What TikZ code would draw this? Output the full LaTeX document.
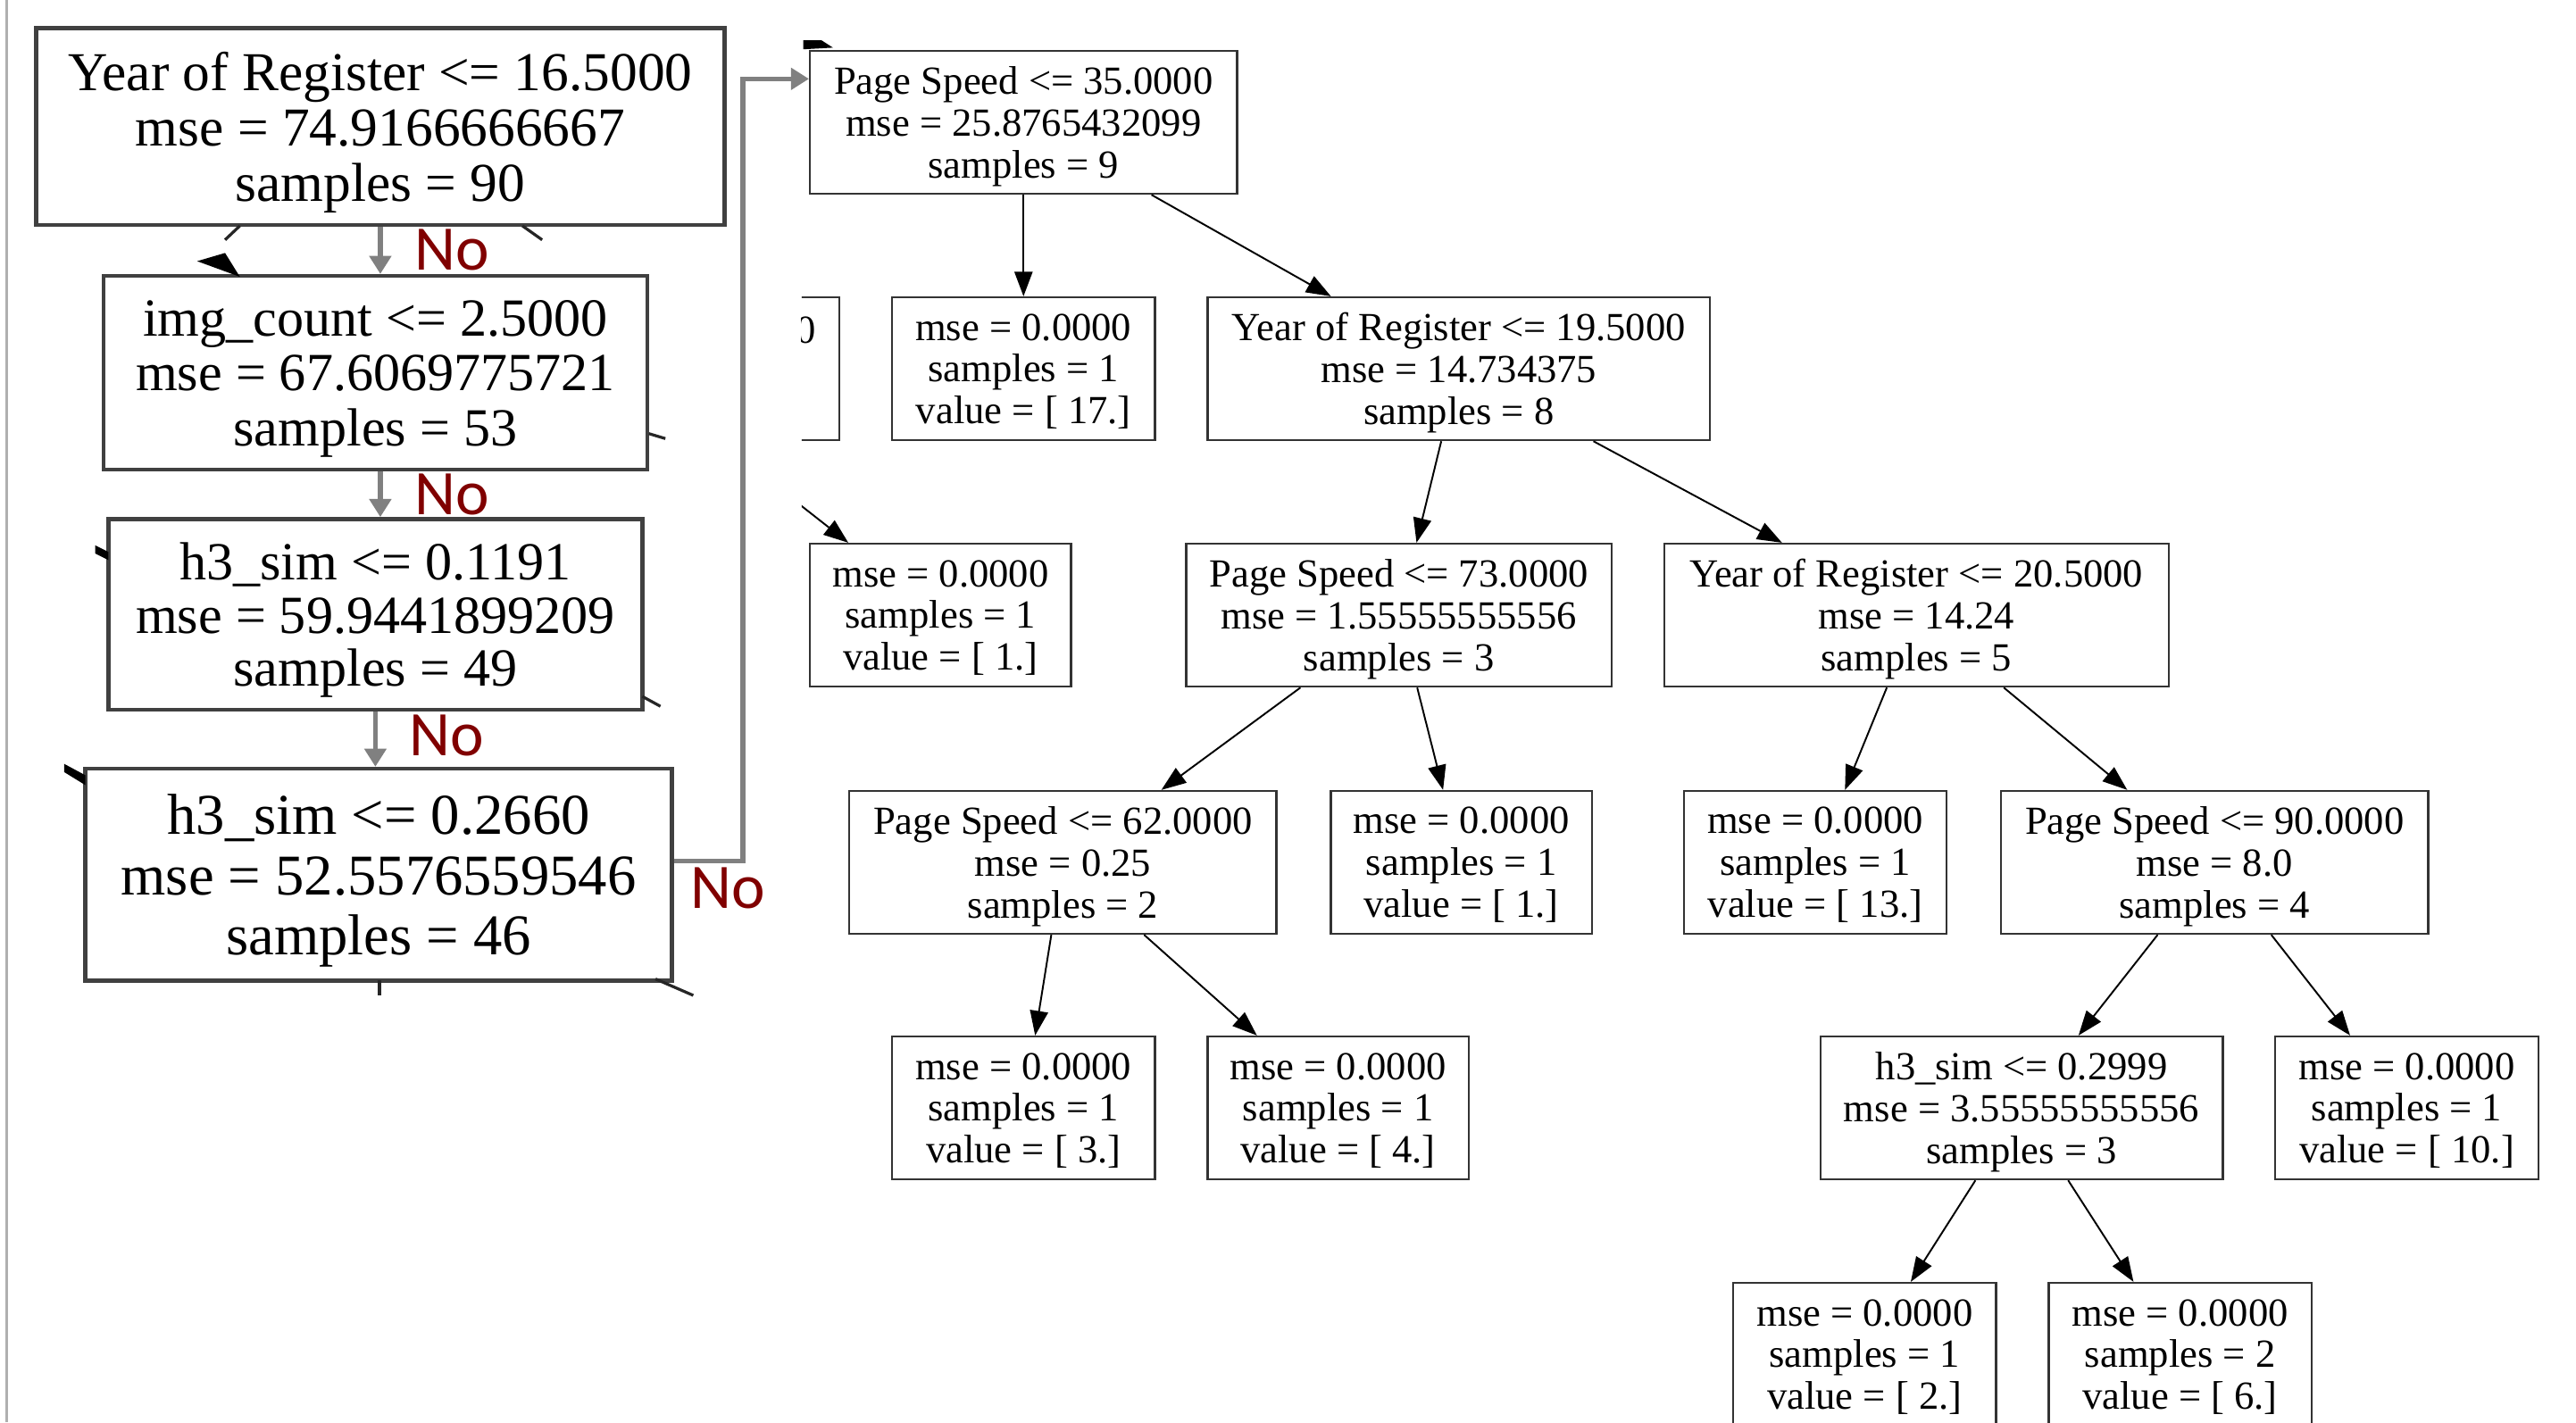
\documentclass[tikz,border=0pt]{standalone}
\usepackage{fontspec}
\setmainfont{Liberation Serif}
\newfontfamily\calibrifont{Carlito}
\usetikzlibrary{arrows.meta}
\definecolor{nored}{RGB}{128,0,0}
\definecolor{nogray}{RGB}{128,128,128}
\definecolor{framegray}{RGB}{176,176,176}

\begin{document}
\begin{tikzpicture}[x=0.02cm,y=-0.02cm,
  tree/.style={black,line width=0.6pt,-{Triangle[width=0.22cm,length=0.3cm]}},
  no/.style={nogray,line width=1.6pt,-{Triangle[width=0.26cm,length=0.22cm]}},
  nolabel/.style={nored,inner sep=0pt,font=\calibrifont\fontsize{22}{22}\selectfont}]
\useasboundingbox (0,0) rectangle (1568,866);
\clip (0,0) rectangle (1568,866);
\draw[framegray,line width=0.9pt] (4,0) -- (4,866);

% left column
\begin{scope}[every node/.style={draw=black!75,line width=1.4pt,align=center,inner sep=0pt,text depth=0pt}]
\node[minimum width=8.38cm,minimum height=2.4cm,font=\fontsize{19}{19.1}\selectfont] (0) at (231.5,77) {Year of Register <= 16.5000\\mse = 74.9166666667\\samples = 90};
\node[minimum width=6.62cm,minimum height=2.36cm,font=\fontsize{18.6}{19}\selectfont] (1) at (228.5,227) {img\_count <= 2.5000\\mse = 67.6069775721\\samples = 53};
\node[minimum width=6.5cm,minimum height=2.32cm,font=\fontsize{18.6}{18.4}\selectfont] (2) at (228.5,374) {h3\_sim <= 0.1191\\mse = 59.9441899209\\samples = 49};
\node[minimum width=7.14cm,minimum height=2.58cm,font=\fontsize{20}{20.8}\selectfont] (3) at (230.5,532.5) {h3\_sim <= 0.2660\\mse = 52.5576559546\\samples = 46};
\end{scope}

% cut ends of the old edges
\draw[black!85,line width=1pt] (146,137.5) -- (137,146);
\fill[black] (120,159) -- (137,154) -- (146,168.5) -- cycle;
\draw[black!85,line width=1pt] (318,137.5) -- (330,146);
\draw[black!85,line width=1pt] (395,264) -- (405,267);
\fill[black] (58,332) -- (66,336) -- (66,341) -- (58,337) -- cycle;
\draw[black!85,line width=1pt] (391,424) -- (402,430);
\fill[black] (39,465) -- (52,472) -- (52,478) -- (39,470) -- cycle;
\draw[black!85,line width=1pt] (231,597) -- (231,606);
\draw[black!85,line width=1pt] (399,596) -- (422,606);

% tree
\begin{scope}[every node/.style={draw=black!80,line width=0.7pt,align=center,inner sep=0pt,text depth=0pt,minimum height=1.74cm,font=\fontsize{13.8}{14.5}\selectfont}]
\node[minimum width=5.2cm] (4) at (623,74.5) {Page Speed <= 35.0000\\mse = 25.8765432099\\samples = 9};
\node[minimum width=3.2cm] (5) at (623,224.5) {mse = 0.0000\\samples = 1\\value = [ 17.]};
\node[minimum width=6.12cm] (6) at (888,224.5) {Year of Register <= 19.5000\\mse = 14.734375\\samples = 8};
\node[minimum width=3.18cm] (7) at (572.5,374.5) {mse = 0.0000\\samples = 1\\value = [ 1.]};
\node[minimum width=5.18cm] (8) at (851.5,374.5) {Page Speed <= 73.0000\\mse = 1.55555555556\\samples = 3};
\node[minimum width=6.14cm] (9) at (1166.5,374.5) {Year of Register <= 20.5000\\mse = 14.24\\samples = 5};
\node[minimum width=5.2cm] (10) at (647,525) {Page Speed <= 62.0000\\mse = 0.25\\samples = 2};
\node[minimum width=3.18cm] (11) at (889.5,525) {mse = 0.0000\\samples = 1\\value = [ 1.]};
\node[minimum width=3.2cm] (12) at (1105,525) {mse = 0.0000\\samples = 1\\value = [ 13.]};
\node[minimum width=5.2cm] (13) at (1348,525) {Page Speed <= 90.0000\\mse = 8.0\\samples = 4};
\node[minimum width=3.2cm] (14) at (623,674.5) {mse = 0.0000\\samples = 1\\value = [ 3.]};
\node[minimum width=3.18cm] (15) at (814.5,674.5) {mse = 0.0000\\samples = 1\\value = [ 4.]};
\node[minimum width=4.9cm] (16) at (1230.5,674.5) {h3\_sim <= 0.2999\\mse = 3.55555555556\\samples = 3};
\node[minimum width=3.2cm] (17) at (1465,674.5) {mse = 0.0000\\samples = 1\\value = [ 10.]};
\node[minimum width=3.2cm] (18) at (1135,824.5) {mse = 0.0000\\samples = 1\\value = [ 2.]};
\node[minimum width=3.2cm] (19) at (1327,824.5) {mse = 0.0000\\samples = 2\\value = [ 6.]};
\end{scope}

\draw[tree] (4) -- (5);
\draw[tree] (4) -- (6);
\draw[tree] (6) -- (8);
\draw[tree] (6) -- (9);
\draw[tree] (8) -- (10);
\draw[tree] (8) -- (11);
\draw[tree] (9) -- (12);
\draw[tree] (9) -- (13);
\draw[tree] (10) -- (14);
\draw[tree] (10) -- (15);
\draw[tree] (13) -- (16);
\draw[tree] (13) -- (17);
\draw[tree] (16) -- (18);
\draw[tree] (16) -- (19);

% gray "No" arrows
\draw[no] (0.south) -- (1.north -| 0.south);
\draw[no] (1.south -| 0.south) -- (2.north -| 0.south);
\draw[no] (2.south) -- (3.north -| 2.south);
\draw[no] ([yshift=0.17cm]3.east) -- ++(42,0) |- ([yshift=0.53cm]4.west);

\node[nolabel] (no0) at (275,152) {No};
\node[nolabel] (no1) at (275,301) {No};
\node[nolabel] (no2) at (272,448) {No};
\node[nolabel] (no3) at (443,541) {No};

% pieces cut off at the left
\begin{scope}
\clip (488,0) rectangle (1568,866);
\node[draw=black!80,line width=0.7pt,inner sep=0pt,minimum width=3.2cm,minimum height=1.74cm] (20) at (431,224.5) {};
\node[inner sep=0pt,font=\fontsize{13.8}{14.5}\selectfont] (21) at (431,201) {mse = 0.0000};
\coordinate (22) at (470,294);
\draw[tree] (22) -- (7);
\fill[black] (489,24.5) -- (500,24.5) -- (507,29) -- (489,30) -- cycle;
\end{scope}
\end{tikzpicture}
\end{document}
